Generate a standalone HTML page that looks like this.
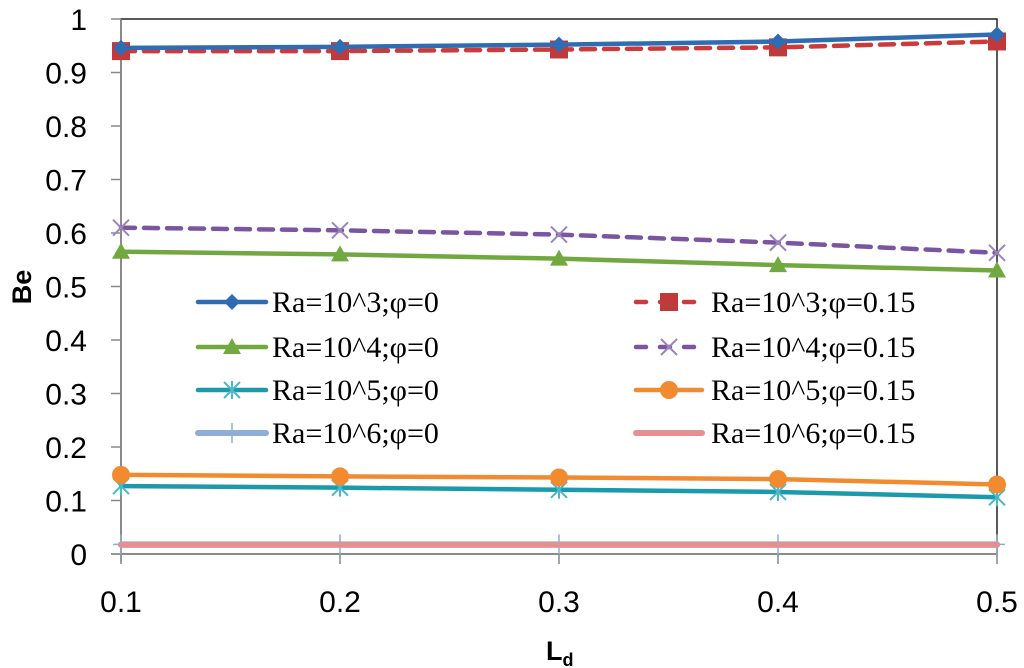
<!DOCTYPE html>
<html><head><meta charset="utf-8"><style>
html,body{margin:0;padding:0;background:#fff;}
svg{display:block;}
.tk{font-family:"Liberation Sans",sans-serif;font-size:30px;fill:#000;}
.lg{font-family:"Liberation Serif",serif;font-size:30px;fill:#000;}
</style></head><body>
<svg id="chart" width="1024" height="668" viewBox="0 0 1024 668"></svg>
<script>
const xCats=[0.1,0.2,0.3,0.4,0.5];
const yTicks=[0,0.1,0.2,0.3,0.4,0.5,0.6,0.7,0.8,0.9,1];
const yTickLabels=["0","0.1","0.2","0.3","0.4","0.5","0.6","0.7","0.8","0.9","1"];
const seriesNames=["Ra=10^3;φ=0","Ra=10^3;φ=0.15","Ra=10^4;φ=0","Ra=10^4;φ=0.15","Ra=10^5;φ=0","Ra=10^5;φ=0.15","Ra=10^6;φ=0","Ra=10^6;φ=0.15"];
const ra3phi0=[0.946,0.948,0.952,0.958,0.971];
const ra3phi15=[0.94,0.94,0.943,0.947,0.958];
const ra4phi0=[0.565,0.56,0.552,0.54,0.53];
const ra4phi15=[0.61,0.605,0.597,0.582,0.563];
const ra5phi0=[0.127,0.124,0.12,0.116,0.106];
const ra5phi15=[0.148,0.145,0.143,0.14,0.13];
const ra6phi0=[0.018,0.018,0.018,0.018,0.018];
const ra6phi15=[0.017,0.017,0.017,0.017,0.017];

const X0=121,X1=997,Y0=554,Y1=19;
const xs=v=>X0+(v-0.1)/0.4*(X1-X0);
const ys=v=>Y0-v*(Y0-Y1);
const svg=document.getElementById('chart');
const NS='http://www.w3.org/2000/svg';
function mk(t,a,p){const e=document.createElementNS(NS,t);for(const k in a)e.setAttribute(k,a[k]);(p||svg).appendChild(e);return e;}

const fr=mk('rect',{x:X0,y:Y1,width:X1-X0,height:Y0-Y1,fill:'none',stroke:'#222','stroke-width':1.5});

const yax=mk('line',{x1:X0,y1:Y1,x2:X0,y2:Y0+8,stroke:'#888','stroke-width':1.5});

const xax=mk('line',{x1:X0-10,y1:Y0,x2:X1,y2:Y0,stroke:'#888','stroke-width':1.5});

yTicks.forEach((v,i)=>{
  const l=mk('line',{x1:X0-10,y1:ys(v),x2:X0,y2:ys(v),stroke:'#888','stroke-width':1.5});
  
  const t=mk('text',{x:87,y:ys(v)+11,'text-anchor':'end',class:'tk'});t.textContent=yTickLabels[i];
  
});
xCats.forEach(v=>{
  const l=mk('line',{x1:xs(v),y1:Y0,x2:xs(v),y2:Y0+10,stroke:'#888','stroke-width':1.5});
  
  const t=mk('text',{x:xs(v),y:612,'text-anchor':'middle',class:'tk'});t.textContent=v.toFixed(1);
  
});
const yt=mk('text',{x:0,y:0,transform:'translate(31,287) rotate(-90)','text-anchor':'middle','font-family':'Liberation Sans,sans-serif','font-size':'27','font-weight':'bold'});
yt.textContent='Be';
const xt=mk('text',{x:546,y:660,'font-family':'Liberation Sans,sans-serif','font-size':'27','font-weight':'bold'});
xt.innerHTML='L<tspan font-size="18" dy="6">d</tspan>';


function marker(type,x,y,c,g){
  if(type==='diamond')mk('polygon',{points:`${x},${y-8} ${x+8},${y} ${x},${y+8} ${x-8},${y}`,fill:c},g);
  else if(type==='square')mk('rect',{x:x-9,y:y-9,width:18,height:18,fill:c},g);
  else if(type==='tri')mk('polygon',{points:`${x},${y-9} ${x+9},${y+7} ${x-9},${y+7}`,fill:c},g);
  else if(type==='circle')mk('circle',{cx:x,cy:y,r:9,fill:c},g);
  else if(type==='x'){mk('path',{d:`M${x-8},${y-8}L${x+8},${y+8}M${x-8},${y+8}L${x+8},${y-8}`,stroke:c,'stroke-width':2},g);}
  else if(type==='star'){mk('path',{d:`M${x-8},${y-8}L${x+8},${y+8}M${x-8},${y+8}L${x+8},${y-8}M${x},${y-9}L${x},${y+9}`,stroke:c,'stroke-width':2},g);}
  else if(type==='plus'){mk('path',{d:`M${x},${y-10}L${x},${y+10}M${x-8},${y}L${x+8},${y}`,stroke:c,'stroke-width':1.5},g);}
}
const styles=[
 {d:ra3phi0,c:'#2e6db4',m:'diamond',dash:null,mc:'#2e6db4'},
 {d:ra3phi15,c:'#cc3b3b',m:'square',dash:'14 9',mc:'#c0393b'},
 {d:ra4phi0,c:'#72a840',m:'tri',dash:null,mc:'#72a840'},
 {d:ra4phi15,c:'#7b559f',m:'x',dash:'14 9',mc:'#9c85bd'},
 {d:ra5phi0,c:'#1a9aaa',m:'star',dash:null,mc:'#4bb8c8'},
 {d:ra5phi15,c:'#f28a30',m:'circle',dash:null,mc:'#f28a30'},
 {d:ra6phi0,c:'#8eaed8',m:'plus',dash:null,mc:'#8eaed8'},
 {d:ra6phi15,c:'#e39092',m:null,dash:null,mc:'#e39092'}
];
const order=[6,7,4,5,2,3,1,0];
order.forEach(i=>{
  const s=styles[i];
  const g=mk('g',{});
  
  
  const pts=s.d.map((v,j)=>xs(xCats[j])+','+ys(v)).join(' ');
  const a={points:pts,fill:'none',stroke:s.c,'stroke-width':i>=6?6:4.5,'stroke-linecap':'round'};
  if(s.dash)a['stroke-dasharray']=s.dash;
  mk('polyline',a,g);
  if(s.m)s.d.forEach((v,j)=>marker(s.m,xs(xCats[j]),ys(v),s.mc,g));
});
const rows=[302,347,390,433];
styles.forEach((s,i)=>{
  const col=i%2,row=Math.floor(i/2);
  const lx=col?636:198,lx2=col?702:266,tx=col?711:272,y=rows[row];
  const g=mk('g',{});
  
  
  const a={x1:lx,y1:y,x2:lx2,y2:y,stroke:s.c,'stroke-width':i>=6?6:4.5,'stroke-linecap':'round'};
  if(s.dash)a['stroke-dasharray']='10 14';
  mk('line',a,g);
  if(s.m)marker(s.m,(lx+lx2)/2,y,s.mc,g);
  const t=mk('text',{x:tx,y:y+10,class:'lg'},g);t.textContent=seriesNames[i];
});
</script>
</body></html>
